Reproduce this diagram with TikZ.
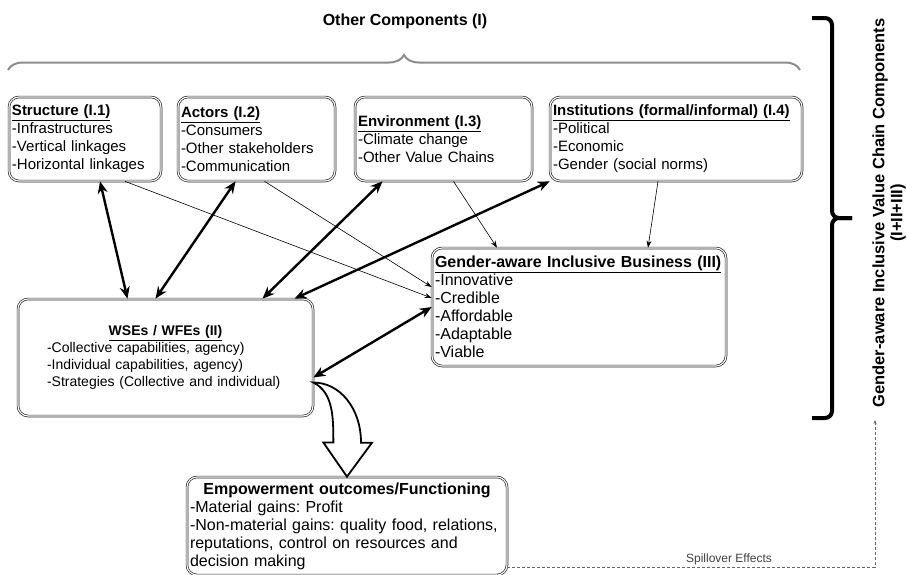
\documentclass[tikz,border=0pt]{standalone}
\usepackage{fontspec}
\setmainfont{Liberation Sans}
\usetikzlibrary{arrows.meta,decorations.pathreplacing,calc}
\frenchspacing

\tikzset{
    compbox/.style={draw=black!85, double, double distance=1.1pt, line width=0.7pt, rounded corners=10pt, align=left, inner sep=3pt, font=\fontsize{15}{18}\selectfont},
    bothways/.style={{Stealth[length=12pt,width=10pt]}-{Stealth[length=12pt,width=10pt]}, line width=2.4pt},
    oneway/.style={-{Stealth[length=7pt,width=5pt]}, line width=0.6pt},
    spill/.style={-{Stealth[length=4pt,width=3pt]}, densely dashed, black!60, line width=0.6pt}
}
\newcommand{\boxtitle}[1]{\underline{\textbf{#1}}}

\begin{document}
\begin{tikzpicture}[x=1pt,y=-1pt]
            \useasboundingbox (0,0) rectangle (907,574);
            \node[draw=none,fill=none,font=\fontsize{16}{18}\selectfont\bfseries] (other) at (405,21) {Other Components (I)};
            \draw[decorate, decoration={brace, amplitude=15pt}, line width=2pt, black!45] (8,70) -- (800,70);

            \node[compbox, text width=146pt, minimum height=84pt] (structure) at (85,139) {\boxtitle{Structure (I.1)}\\-Infrastructures\\-Vertical linkages\\-Horizontal linkages};
            \node[compbox, text width=151pt, minimum height=84pt] (actors) at (256.5,139) {\boxtitle{Actors (I.2)}\\-Consumers\\-Other stakeholders\\-Communication};
            \node[compbox, text width=171pt, minimum height=84pt] (env) at (443.5,139) {\boxtitle{Environment (I.3)}\\-Climate change\\-Other Value Chains};
            \node[compbox, text width=246pt, minimum height=84pt] (inst) at (676,139) {\boxtitle{Institutions (formal/informal) (I.4)}\\-Political\\-Economic\\-Gender (social norms)};

            \node[compbox, text width=288pt, minimum height=118pt, font=\fontsize{16}{18}\selectfont] (ga) at (579,307) {\boxtitle{Gender-aware Inclusive Business (III)}\\-Innovative\\-Credible\\-Affordable\\-Adaptable\\-Viable};
            \node[compbox, text width=237pt, minimum width=295pt, minimum height=117pt, font=\fontsize{14}{17}\selectfont] (wse) at (165.5,357.5) {\hfill\boxtitle{WSEs / WFEs (II)}\hfill\null\\-Collective capabilities, agency)\\-Individual capabilities, agency)\\-Strategies (Collective and individual)};
            \node[compbox, text width=314pt, minimum height=98pt, font=\fontsize{16}{18}\selectfont] (emp) at (347,526) {\hfill\textbf{Empowerment outcomes/Functioning}\hfill\null\\-Material gains: Profit\\-Non-material gains: quality food, relations,\\reputations, control on resources and\\decision making};

            \coordinate (bend) at ($(wse.east)+(0,25)$);
            \draw[line width=1.8pt, fill=white] (bend) .. controls +(20,10) and +(0,-25) .. ++(20,60) -- ++(-10,0) -- (emp.north) -- ++(25,-34) -- ++(-11,0) .. controls +(0,-35) and +(26,0) .. (bend) -- cycle;

            \draw[bothways] ([xshift=15pt]structure.south) -- ([xshift=-38pt]wse.north);
            \draw[bothways] ([xshift=-21pt]actors.south) -- ([xshift=-10pt]wse.north);
            \draw[bothways] ([xshift=-61pt]env.south) -- ([xshift=97pt]wse.north);
            \draw[bothways] (inst.south west) -- ([xshift=129pt]wse.north);
            \draw[bothways] ([yshift=-20pt]wse.east) -- (ga.west);

            \draw[oneway] ([xshift=40pt]structure.south) -- ([yshift=9pt]ga.west);
            \draw[oneway] ([xshift=8pt]actors.south) -- ([yshift=20pt]ga.west);
            \draw[oneway] ([xshift=10pt]env.south) -- ([xshift=-82pt]ga.north);
            \draw[oneway] ([xshift=-18pt]inst.south) -- ([xshift=69pt]ga.north);

            \draw[line width=4pt, rounded corners=7pt] (812,18) -- (832,18) -- (832,218) -- (852,218);
            \draw[line width=4pt, rounded corners=7pt] (852,218) -- (832,218) -- (832,418) -- (812,418);
            \node[draw=none,fill=none,rotate=90,align=center,font=\fontsize{16.5}{18}\selectfont\bfseries] (vcc) at (889,213) {Gender-aware Inclusive Value Chain Components\\(I+II+III)};

            \coordinate (vcfoot) at (875,420);
            \draw[spill] ([yshift=-41pt]emp.east) -| (vcfoot);
            \node[draw=none,fill=none,font=\fontsize{12}{14}\selectfont,text=black!75] (spilltext) at (729,559) {Spillover Effects};
        \end{tikzpicture}
\end{document}
